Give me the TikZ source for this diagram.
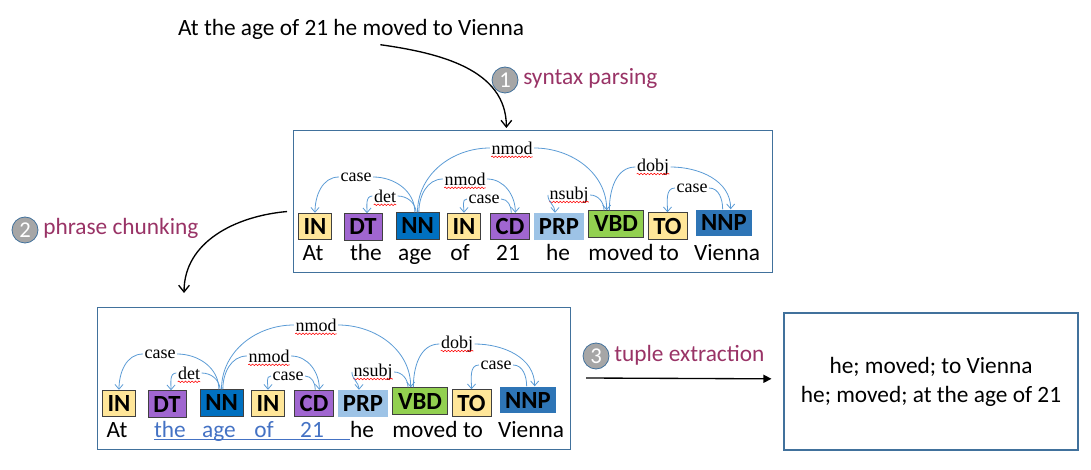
\documentclass[tikz,border=0pt]{standalone}
\usepackage{fontspec}
\setmainfont{Carlito}
\newfontfamily\relfont{Liberation Serif}
\usetikzlibrary{arrows.meta,decorations.pathmorphing}

\definecolor{panelblue}{RGB}{65,113,156}
\definecolor{arcblue}{RGB}{91,155,213}
\definecolor{stepred}{RGB}{153,51,102}
\definecolor{chunkblue}{RGB}{68,114,196}
\definecolor{tagyellow}{RGB}{255,230,153}
\definecolor{tagpurple}{RGB}{160,102,208}
\definecolor{tagnn}{RGB}{0,112,192}
\definecolor{tagprp}{RGB}{157,195,230}
\definecolor{taggreen}{RGB}{146,208,80}
\definecolor{tagnnp}{RGB}{46,117,182}

\tikzset{
	tag/.style={draw=black!75,line width=0.6pt,font=\fontsize{18.5}{20}\selectfont\bfseries,
		inner xsep=4pt,inner ysep=0pt,minimum height=20pt},
	word/.style={anchor=base,inner sep=0pt,font=\fontsize{17.5}{20}\selectfont},
	rel/.style={inner sep=0pt,font=\relfont\fontsize{13.5}{15}\selectfont},
	arc/.style={arcblue,line width=0.6pt},
	dep/.style={arc,-{Straight Barb[length=3.5pt,width=6pt]}},
	squiggle/.style={red,line width=0.4pt,decorate,decoration={snake,amplitude=0.6pt,segment length=2.5pt}},
	panel/.style={draw=panelblue,line width=0.8pt,inner sep=0pt},
	flow/.style={line width=1pt,-{Straight Barb[length=5pt,width=8pt]}},
	stepnum/.style={circle,draw=panelblue,line width=0.6pt,fill=black!35,text=white,
		minimum size=19.5pt,inner sep=0pt,font=\fontsize{17}{17}\selectfont},
	steptext/.style={anchor=west,inner sep=0pt,text=stepred,font=\fontsize{17.5}{20}\selectfont}
}

\begin{document}
\begin{tikzpicture}[x=0.75pt,y=0.75pt]
	\useasboundingbox (0,0) rectangle (1091,-470);
	\node[word,anchor=center] (sent) at (351,-29) {At the age of 21 he moved to Vienna};
	% the same parse, once plain and once with the chunk marked
	\foreach \p/\ox/\oy/\w/\wc in {a/293/-130/479/black,b/97/-307/473/chunkblue}{
		\begin{scope}[shift={(\ox,\oy)}]
			\node[panel,anchor=north west,minimum width=\w*0.75pt,minimum height=106.5pt] (\p-box) at (0,0) {};
			\node[tag,fill=tagyellow] (\p-in1) at (22,-96.5) {IN};
			\node[tag,fill=tagpurple] (\p-dt) at (70,-97) {DT};
			\node[tag,fill=tagnn] (\p-nn) at (124.5,-96) {NN};
			\node[tag,fill=tagyellow] (\p-in2) at (171,-96.5) {IN};
			\node[tag,fill=tagpurple] (\p-cd) at (217,-96.5) {CD};
			\node[tag,fill=tagprp,draw=none] (\p-prp) at (266,-96.5) {PRP};
			\node[tag,fill=taggreen] (\p-vbd) at (323,-94) {VBD};
			\node[tag,fill=tagyellow] (\p-to) at (374.5,-96) {TO};
			\node[tag,fill=tagnnp,draw=none] (\p-nnp) at (431,-93) {NNP};
			\node[word] (\p-at) at (20,-130) {At};
			\node[word,text=\wc] (\p-the) at (73,-130) {the};
			\node[word,text=\wc] (\p-age) at (122,-130) {age};
			\node[word,text=\wc] (\p-of) at (167,-130) {of};
			\node[word,text=\wc] (\p-21) at (215,-130) {21};
			\node[word] (\p-he) at (265,-130) {he};
			\node[word] (\p-moved) at (328,-130) {moved};
			\node[word] (\p-tow) at (376,-130) {to};
			\node[word] (\p-vienna) at (434,-130) {Vienna};
			\node[rel] (\p-nmoda) at (219,-18) {nmod};
			\node[rel] (\p-casea) at (63,-47) {case};
			\node[rel] (\p-det) at (92,-66) {det};
			\node[rel] (\p-nmodb) at (172,-49) {nmod};
			\node[rel] (\p-caseb) at (191,-69) {case};
			\node[rel] (\p-nsubj) at (276,-65) {nsubj};
			\node[rel] (\p-dobj) at (360,-37) {dobj};
			\node[rel] (\p-casec) at (399,-58) {case};
			\foreach \r in {nmoda,det,nmodb,nsubj,dobj}
				\draw[squiggle] ([yshift=-2pt]\p-\r.base west) -- ([yshift=-2pt]\p-\r.base east);
			\draw[arc] ([xshift=-2pt]\p-nn.north) to[out=90,in=0] ([xshift=1pt]\p-casea.east);
			\draw[dep] ([xshift=-1pt]\p-casea.west) to[out=180,in=90] (\p-in1.north);
			\draw[arc] ([xshift=-1pt]\p-nn.north) to[out=95,in=0] ([xshift=1pt]\p-det.east);
			\draw[dep] ([xshift=-1pt]\p-det.west) to[out=180,in=90] ([xshift=3pt]\p-dt.north);
			\draw[arc] (\p-nn.north) to[out=90,in=180] ([xshift=-1pt]\p-nmoda.west);
			\draw[dep] ([xshift=1pt]\p-nmoda.east) to[out=0,in=90] ([xshift=-7pt]\p-vbd.north);
			\draw[arc] ([xshift=1pt]\p-nn.north) to[out=90,in=180] ([xshift=-1pt]\p-nmodb.west);
			\draw[dep] ([xshift=1pt]\p-nmodb.east) to[out=0,in=90] ([xshift=4pt]\p-cd.north);
			\draw[arc] ([xshift=1pt]\p-cd.north) to[out=90,in=0] ([xshift=1pt]\p-caseb.east);
			\draw[dep] ([xshift=-1pt]\p-caseb.west) to[out=180,in=90] (\p-in2.north);
			\draw[dep] ([xshift=-1pt]\p-nsubj.west) to[out=270,in=90] ([xshift=-3pt]\p-prp.north);
			\draw[arc] ([xshift=1pt]\p-nsubj.east) to[out=0,in=90] ([xshift=-9pt]\p-vbd.north);
			\draw[arc] ([xshift=-5pt]\p-vbd.north) to[out=90,in=180] ([xshift=-1pt]\p-dobj.west);
			\draw[dep] ([xshift=1pt]\p-dobj.east) to[out=0,in=90] ([xshift=5pt]\p-nnp.north);
			\draw[dep] ([xshift=-1pt]\p-casec.west) to[out=180,in=90] (\p-to.north);
			\draw[arc] ([xshift=1pt]\p-casec.east) to[out=0,in=90] ([xshift=-1pt]\p-nnp.north);
		\end{scope}
	}
	\draw[chunkblue,line width=0.8pt] ([yshift=-2pt]b-the.base west) -- ([yshift=-2pt]b-he.base west);
	% steps
	\node[stepnum] (n1) at (505,-80) {1};
	\node[steptext] (s1) at (523,-78) {syntax parsing};
	\node[stepnum] (n2) at (25,-230) {2};
	\node[steptext] (s2) at (43,-228) {phrase chunking};
	\node[stepnum] (n3) at (596,-356) {3};
	\node[steptext] (s3) at (614,-355) {tuple extraction};
	\node[panel,minimum width=220.5pt,minimum height=102.75pt,align=center,
		font=\fontsize{17.5}{21.75}\selectfont] (res) at (931,-381.5)
		{he; moved; to Vienna\\he; moved; at the age of 21};
	\draw[flow] ([xshift=22pt,yshift=-4pt]sent.south) to[out=-8,in=90] ([xshift=-20pt,yshift=1.5pt]a-box.north);
	\draw[flow] ([xshift=-4.5pt,yshift=-7.5pt]a-box.west) to[out=185,in=90] ([xshift=-112.5pt,yshift=10.5pt]b-box.north);
	\coordinate (ex) at (586,-378);
	\draw[line width=1pt,-{Triangle[length=6pt,width=6pt]}] (ex) -- ([xshift=-9pt,yshift=2pt]res.west);
\end{tikzpicture}
\end{document}
